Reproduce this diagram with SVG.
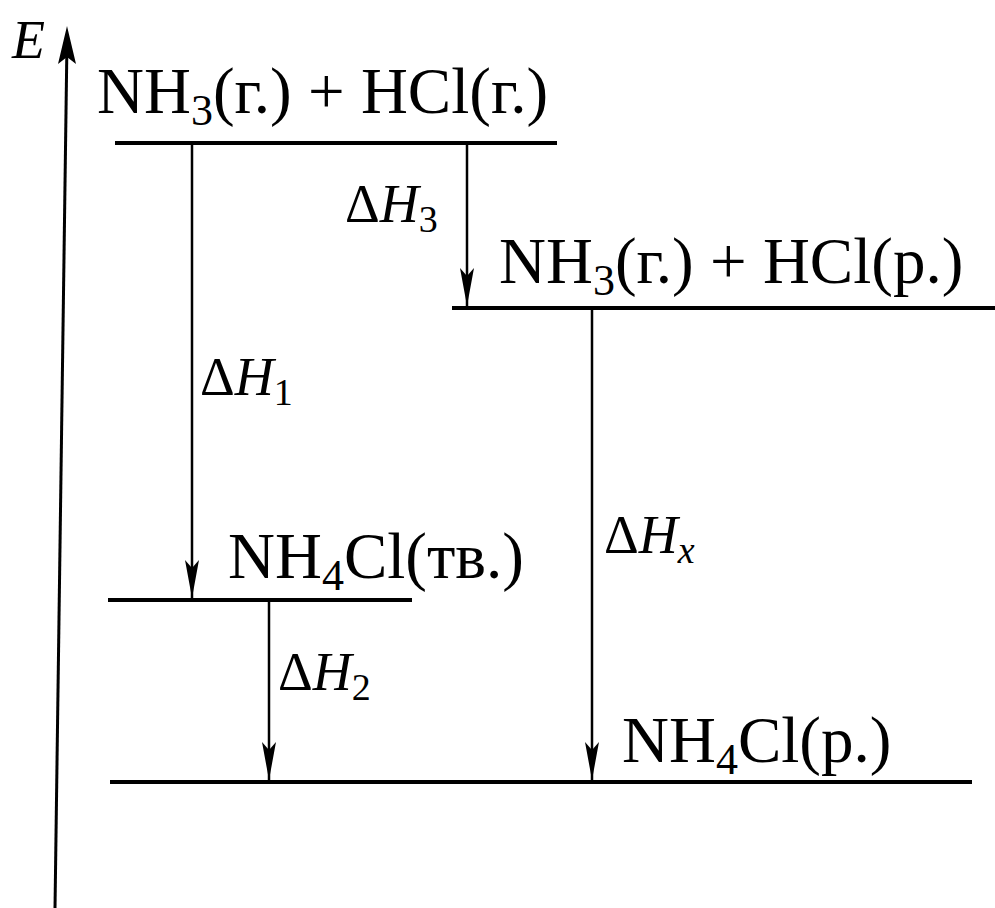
<svg xmlns="http://www.w3.org/2000/svg" width="995" height="908" viewBox="0 0 995 908">
<style>
.lvl{stroke:#000;stroke-width:4;fill:none}
.arr{stroke:#000;stroke-width:2.5;fill:none;marker-end:url(#ah)}
.t{font-family:"Liberation Serif","Times New Roman",serif;font-size:65px;fill:#000}
.d{font-family:"Liberation Serif","Times New Roman",serif;font-size:54px;fill:#000}
.i{font-style:italic}
</style>
<defs>
<marker id="ah" markerUnits="userSpaceOnUse" markerWidth="40" markerHeight="14" refX="38" refY="7" orient="auto" viewBox="0 0 40 14">
<path d="M0,0 L38,7 L0,14 L8,7 Z" fill="#000"/>
</marker>
</defs>
<g id="axis">
<line x1="55" y1="908" x2="67" y2="40" stroke="#000" stroke-width="3"/>
<path d="M67,26 L58,64 L67,57 L76,64 Z" fill="#000"/>
<text class="d i" x="12" y="58" font-size="56">E</text>
</g>
<g id="level1">
<line class="lvl" x1="115" y1="143" x2="557" y2="143"/>
<text class="t" x="97" y="113">NH<tspan font-size="44" dy="12">3</tspan><tspan dy="-12">(г.) + HCl(г.)</tspan></text>
</g>
<g id="level2">
<line class="lvl" x1="452" y1="308" x2="995" y2="308"/>
<text class="t" x="499" y="283">NH<tspan font-size="44" dy="12">3</tspan><tspan dy="-12">(г.) + HCl(р.)</tspan></text>
</g>
<g id="level3">
<line class="lvl" x1="108" y1="600" x2="412" y2="600"/>
<text class="t" x="228" y="578">NH<tspan font-size="44" dy="12">4</tspan><tspan dy="-12">Cl(тв.)</tspan></text>
</g>
<g id="level4">
<line class="lvl" x1="110" y1="782" x2="972" y2="782"/>
<text class="t" x="622" y="762">NH<tspan font-size="44" dy="12">4</tspan><tspan dy="-12">Cl(р.)</tspan></text>
</g>
<g id="connectors">
<line class="arr" x1="192" y1="145" x2="192" y2="598"/>
<line class="arr" x1="467" y1="145" x2="467" y2="306"/>
<line class="arr" x1="269" y1="602" x2="269" y2="780"/>
<line class="arr" x1="592" y1="310" x2="592" y2="780"/>
</g>
<g id="labels">
<text class="d" x="200" y="395">Δ<tspan class="i">H</tspan><tspan font-size="38" dy="10">1</tspan></text>
<text class="d" x="345" y="222">Δ<tspan class="i">H</tspan><tspan font-size="38" dy="10">3</tspan></text>
<text class="d" x="278" y="690">Δ<tspan class="i">H</tspan><tspan font-size="38" dy="10">2</tspan></text>
<text class="d" x="604" y="553">Δ<tspan class="i">H</tspan><tspan class="i" font-size="38" dy="10">x</tspan></text>
</g>
</svg>
